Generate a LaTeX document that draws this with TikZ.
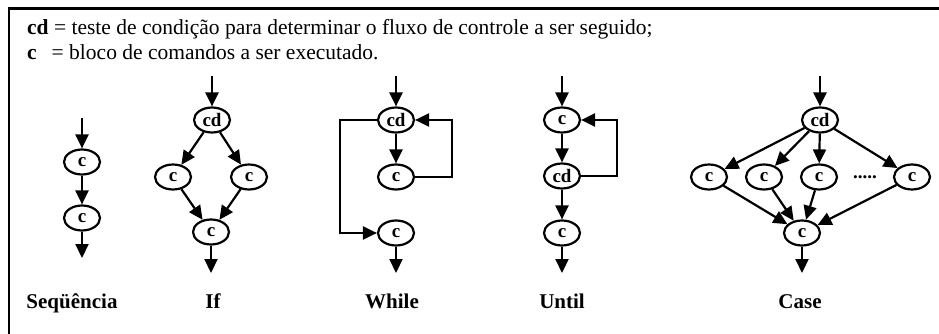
\documentclass[tikz,border=0pt]{standalone}
\usepackage{fontspec}
\setmainfont{Liberation Serif}
\usetikzlibrary{shapes.geometric,arrows.meta}
\tikzset{
  cnode/.style={ellipse, draw, line width=2.2pt, minimum width=36pt, minimum height=25pt, inner sep=0pt, font=\bfseries\fontsize{19}{19}\selectfont},
  flow/.style={line width=2.2pt, -{Triangle[length=14pt,width=13pt]}},
  title/.style={anchor=base, font=\bfseries\fontsize{21}{21}\selectfont, inner sep=0pt},
  head/.style={anchor=base west, font=\fontsize{21.5}{21.5}\selectfont, inner sep=0pt}
}
\begin{document}
\begin{tikzpicture}[x=1pt,y=-1pt]
\useasboundingbox (0,0) rectangle (939,334);
\draw[line width=2.2pt] (9,334) -- (9,8.5) -- (939,8.5);
\node[head] (h1) at (27,35) {\textbf{cd} = teste de condição para determinar o fluxo de controle a ser seguido;};
\node[head] (h2) at (27,60) {\textbf{c}\hspace{15pt}= bloco de comandos a ser executado.};
% Sequencia
\coordinate (s0) at (82,118);
\node[cnode] (s1) at (82,162) {c};
\node[cnode] (s2) at (82,218) {c};
\coordinate (s3) at (82,258);
\draw[flow] (s0) -- (s1);
\draw[flow] (s1) -- (s2);
\draw[flow] (s2) -- (s3);
\node[title] (ls) at (72,308) {Seqüência};
% If
\coordinate (i0) at (212,76);
\node[cnode] (icd) at (212,120) {cd};
\node[cnode] (il) at (173,177) {c};
\node[cnode] (ir) at (249,177) {\raisebox{-3pt}{c}};
\node[cnode] (ib) at (211,232) {c};
\coordinate (i5) at (211,273);
\draw[flow] (i0) -- (icd);
\draw[flow] (icd) -- (il);
\draw[flow] (icd) -- (ir);
\draw[flow] (il) -- (ib);
\draw[flow] (ir) -- (ib);
\draw[flow] (ib) -- (i5);
\node[title] (li) at (213,308) {If};
% While
\coordinate (w0) at (396,76);
\node[cnode] (wcd) at (396,120) {cd};
\node[cnode] (wc2) at (396,177) {c};
\node[cnode] (wc3) at (396,233) {c};
\coordinate (w5) at (396,273);
\coordinate (wr) at (452,120);
\coordinate (wl) at (340,120);
\draw[flow] (w0) -- (wcd);
\draw[flow] (wcd) -- (wc2);
\draw[flow] (wc2.east) -| (wr) -- (wcd.east);
\draw[flow] (wcd.west) -- (wl) |- (wc3.west);
\draw[flow] (wc3) -- (w5);
\node[title] (lw) at (392,308) {While};
% Until
\coordinate (u0) at (562,76);
\node[cnode] (uc1) at (562,120) {c};
\node[cnode] (ucd) at (562,176) {cd};
\node[cnode] (uc3) at (562,233) {c};
\coordinate (u5) at (562,273);
\coordinate (ur) at (617,176);
\draw[flow] (u0) -- (uc1);
\draw[flow] (uc1) -- (ucd);
\draw[flow] (ucd) -- (uc3);
\draw[flow] (ucd.east) -- (ur) |- (uc1.east);
\draw[flow] (uc3) -- (u5);
\node[title] (lu) at (562,308) {Until};
% Case
\coordinate (k0) at (820,76);
\node[cnode] (kcd) at (820,120) {cd};
\node[cnode] (k1) at (709,177) {c};
\node[cnode] (k2) at (764,177) {c};
\node[cnode] (k3) at (819,177) {c};
\node[font=\bfseries\fontsize{19}{19}\selectfont, inner sep=0pt] (kdots) at (865,177) {.....};
\node[cnode] (k4) at (912,177) {c};
\node[cnode] (kb) at (802,233) {c};
\coordinate (k5) at (802,273);
\draw[flow] (k0) -- (kcd);
\draw[flow] (kcd) -- (k1);
\draw[flow] (kcd) -- (k2);
\draw[flow] (kcd) -- (k3);
\draw[flow] (kcd) -- (k4);
\draw[flow] (k1) -- (kb);
\draw[flow] (k2) -- (kb);
\draw[flow] (k3) -- (kb);
\draw[flow] (k4) -- (kb);
\draw[flow] (kb) -- (k5);
\node[title] (lc) at (800,308) {Case};
\end{tikzpicture}
\end{document}
